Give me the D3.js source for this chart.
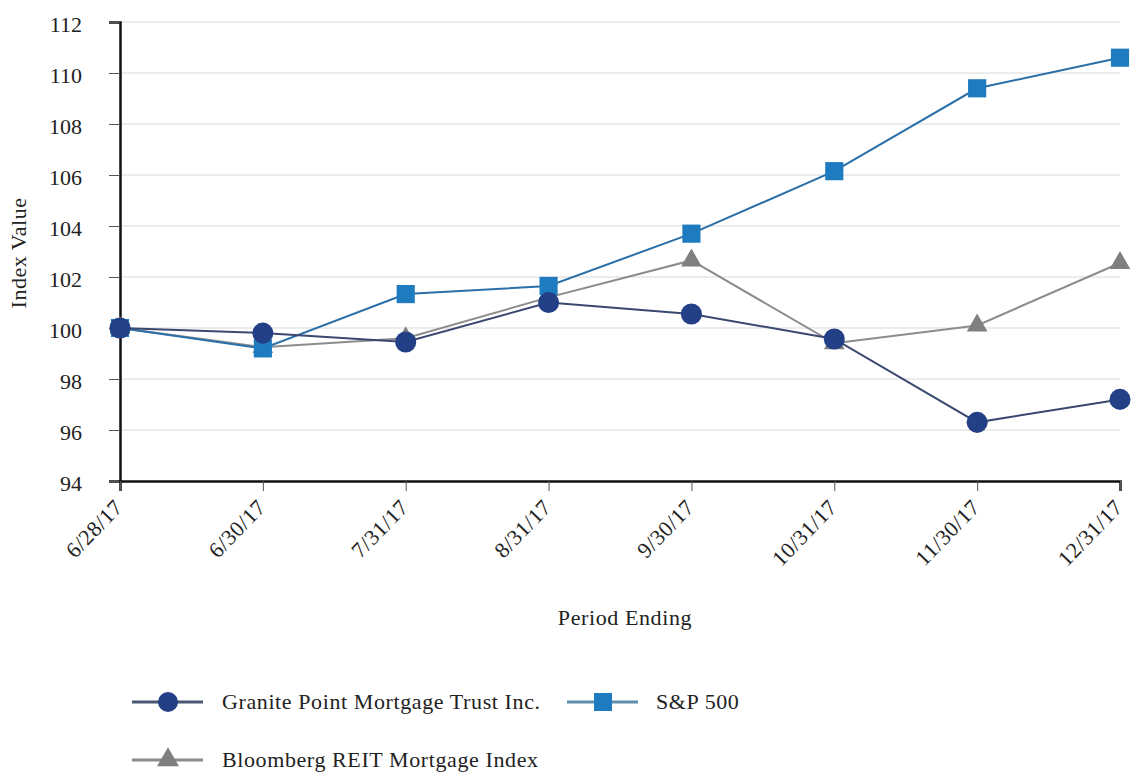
<!DOCTYPE html>
<html><head><meta charset="utf-8">
<script src="https://cdn.jsdelivr.net/npm/d3@7"></script>
<style>body{margin:0;background:#fff}svg{display:block}svg text{font-family:"Liberation Serif","DejaVu Serif","Times New Roman",Times,serif !important;fill:#222}</style>
</head><body><svg id="c" width="1131" height="774"></svg>
<script>
const periods = ["6/28/17","6/30/17","7/31/17","8/31/17","9/30/17","10/31/17","11/30/17","12/31/17"];
const granite = [100, 99.8, 99.45, 101.0, 100.55, 99.57, 96.3, 97.2];
const sp500 = [100, 99.2, 101.33, 101.65, 103.7, 106.15, 109.4, 110.6];
const bloomberg = [100, 99.25, 99.6, 101.2, 102.65, 99.4, 100.1, 102.55];
const yTicks = [94, 96, 98, 100, 102, 104, 106, 108, 110, 112];
const seriesNames = ["Granite Point Mortgage Trust Inc.", "S&P 500", "Bloomberg REIT Mortgage Index"];

const svg = d3.select("#c");
const FONT = "'Liberation Serif','DejaVu Serif',serif";
const L = 120, R = 1120, T = 22, B = 481;
const x = d3.scalePoint().domain(periods).range([L, R]);
const y = d3.scaleLinear().domain([94, 112]).range([B, T]);

// grid
svg.append("g").selectAll("line").data(yTicks.slice(1)).join("line")
  .attr("x1", L).attr("x2", R).attr("y1", d => y(d)).attr("y2", d => y(d))
  .attr("stroke", "#e6e6e6").attr("stroke-width", 1.5);

// y axis
const ya = svg.append("g").attr("transform", `translate(${L},0)`)
  .call(d3.axisLeft(y).tickValues(yTicks).tickSize(11).tickPadding(27));
ya.attr("font-family", FONT);
ya.select(".domain").attr("stroke", "#111").attr("stroke-width", 2.5);
ya.selectAll(".tick line").attr("stroke", "#555");
ya.selectAll("text").attr("font-size", 22).attr("fill", "#222").attr("dy", "0.42em");

// x axis
const xa = svg.append("g").attr("transform", `translate(0,${B})`)
  .call(d3.axisBottom(x).tickSize(10).tickPadding(4));
xa.attr("font-family", FONT);
xa.select(".domain").attr("stroke", "#111").attr("stroke-width", 2.5);
xa.selectAll(".tick line").attr("stroke", "#555");
xa.selectAll("text").attr("font-size", 22).attr("fill", "#222").attr("letter-spacing", 0.5)
  .attr("text-anchor", "end").attr("x", 0).attr("y", 0).attr("dy", "0.35em")
  .attr("transform", "translate(-2,22) rotate(-46)");

// titles
svg.append("text").attr("transform", "translate(26,253) rotate(-90)").attr("text-anchor", "middle")
  .attr("font-family", FONT).attr("font-size", 22).attr("letter-spacing", 0.5).text("Index Value");
svg.append("text").attr("x", 625).attr("y", 625).attr("text-anchor", "middle")
  .attr("font-family", FONT).attr("font-size", 22).attr("letter-spacing", 0.6).text("Period Ending");

const line = d3.line().x((d, i) => x(periods[i])).y(d => y(d));
const series = [
  {name: seriesNames[2], vals: bloomberg, line: "#8c8c8c", fill: "#7f7f7f", sym: d3.symbolTriangle, size: 185, lsize: 210, lline: "#8a8a8a"},
  {name: seriesNames[1], vals: sp500, line: "#2a6fa8", fill: "#1f7bc0", sym: d3.symbolSquare, size: 330, lsize: 324, lline: "#5f8ea8"},
  {name: seriesNames[0], vals: granite, line: "#3a4870", fill: "#233f86", sym: d3.symbolCircle, size: 350, lsize: 314, lline: "#4a5672"}
];
series.forEach(s => {
  svg.append("path").datum(s.vals).attr("d", line).attr("fill", "none")
    .attr("stroke", s.line).attr("stroke-width", 2);
});
series.forEach(s => {
  svg.append("g").selectAll("path").data(s.vals).join("path")
    .attr("transform", (d, i) => `translate(${x(periods[i])},${y(d)})`)
    .attr("d", d3.symbol().type(s.sym).size(s.size)).attr("fill", s.fill);
});

// legend
const leg = [
  {s: series[2], lx: 132, ly: 702, tx: 222},
  {s: series[1], lx: 567, ly: 702, tx: 656},
  {s: series[0], lx: 132, ly: 760, tx: 222}
];
leg.forEach(l => {
  const g = svg.append("g");
  g.append("line").attr("x1", l.lx).attr("x2", l.lx + 71).attr("y1", l.ly).attr("y2", l.ly)
    .attr("stroke", l.s.lline).attr("stroke-width", 3);
  g.append("path").attr("transform", `translate(${l.lx + 36},${l.ly})`)
    .attr("d", d3.symbol().type(l.s.sym).size(l.s.lsize)).attr("fill", l.s.fill);
  g.append("text").attr("x", l.tx).attr("y", l.ly).attr("dy", "0.3em")
    .attr("font-family", FONT).attr("font-size", 22).attr("letter-spacing", 0.6).text(l.s.name);
});
</script></body></html>
